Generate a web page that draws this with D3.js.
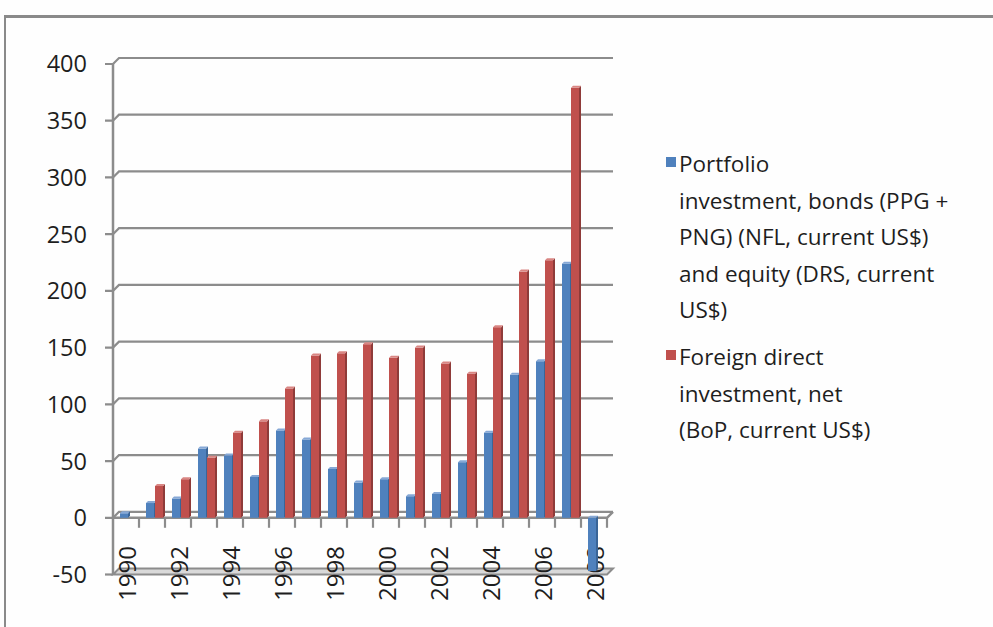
<!DOCTYPE html>
<html>
<head>
<meta charset="utf-8">
<script src="https://cdn.jsdelivr.net/npm/d3@7/dist/d3.min.js"></script>
<style>
  html, body { margin: 0; padding: 0; background: #fff; }
  svg { display: block; }
  text { font-family: "Open Sans", "DejaVu Sans", sans-serif; fill: #1e1e1e; }
</style>
</head>
<body>
<svg id="chart" width="993" height="627"></svg>
<script>
// Annual flows, current US$ (billions)
const years = ["1990","1991","1992","1993","1994","1995","1996","1997","1998","1999",
               "2000","2001","2002","2003","2004","2005","2006","2007","2008"];
const portfolio = [4, 13, 17, 61, 55, 36, 77, 69, 43, 31, 34, 19, 21, 49, 75, 126, 138, 224, -47];
const fdi       = [0, 28, 34, 53, 75, 85, 114, 143, 145, 153, 141, 150, 136, 127, 168, 217, 227, 379, 0];
const yTicks = [-50, 0, 50, 100, 150, 200, 250, 300, 350, 400];
const xLabels = ["1990","1992","1994","1996","1998","2000","2002","2004","2006","2008"];
const seriesNames = [
  ["Portfolio", "investment, bonds (PPG +", "PNG) (NFL, current US$)", "and equity (DRS, current", "US$)"],
  ["Foreign direct", "investment, net", "(BoP, current US$)"]
];
const seriesColors = [
  { front: "#4F81BD", side: "#3A6597", top: "#86A8D6" },
  { front: "#C0504D", side: "#8F3B39", top: "#D98683" }
];

const svg = d3.select("#chart");

// outer chart-area frame
svg.append("rect").attr("x", 0).attr("y", 0).attr("width", 993).attr("height", 627).attr("fill", "#fefefe");
svg.append("line").attr("x1", 4).attr("x2", 993).attr("y1", 16.5).attr("y2", 16.5)
  .attr("stroke", "#8a8a8a").attr("stroke-width", 3);
svg.append("line").attr("x1", 5).attr("x2", 5).attr("y1", 15).attr("y2", 627)
  .attr("stroke", "#8a8a8a").attr("stroke-width", 2);

const left = 113, right = 607;
const depth = { dx: 6, dy: -6 };   // offset of the back wall
const y = d3.scaleLinear().domain([-50, 400]).range([574.5, 64]);
const x = d3.scaleBand().domain(years).range([left, right]).padding(0);
const xs = d3.scaleBand().domain([0, 1]).range([7, 25]).padding(0);

const gridColor = "#8c8c8c";
const g = svg.append("g");

// back-wall gridlines with the little depth connector at the axis
yTicks.filter(v => v > -50).forEach(v => {
  const yy = y(v);
  g.append("path")
    .attr("d", `M${left - 8},${yy} L${left},${yy} L${left + depth.dx},${yy + depth.dy} L${right + depth.dx},${yy + depth.dy}`)
    .attr("fill", "none").attr("stroke", gridColor).attr("stroke-width", 2.2);
});

// floor at the axis minimum
const yf = y(-50);
g.append("path")
  .attr("d", `M${left},${yf} L${left + depth.dx},${yf + depth.dy} L${right + depth.dx},${yf + depth.dy} L${right},${yf} Z`)
  .attr("fill", "#d9d9d9").attr("stroke", gridColor).attr("stroke-width", 2);
g.append("line").attr("x1", left - 8).attr("x2", left).attr("y1", yf).attr("y2", yf)
  .attr("stroke", gridColor).attr("stroke-width", 2.2);

// value axis
g.append("line").attr("x1", left).attr("x2", left).attr("y1", y(400) - 1).attr("y2", yf)
  .attr("stroke", gridColor).attr("stroke-width", 2.5);

// value axis labels
g.selectAll("text.ytick").data(yTicks).join("text")
  .attr("class", "ytick")
  .attr("x", 87).attr("y", d => y(d)).attr("dy", "0.36em")
  .attr("text-anchor", "end")
  .style("font-size", "23.5px")
  .text(d => d);

// category axis at zero: front line, depth edge and tick marks
const y0 = y(0);
g.append("path")
  .attr("d", `M${left},${y0} L${right},${y0} L${right + depth.dx},${y0 + depth.dy}`)
  .attr("fill", "none").attr("stroke", gridColor).attr("stroke-width", 2.5);
years.forEach(yr => {
  const xx = x(yr) + x.bandwidth();
  g.append("line").attr("x1", xx).attr("x2", xx).attr("y1", y0).attr("y2", y0 + 10)
    .attr("stroke", gridColor).attr("stroke-width", 2.2);
});

// category labels, rotated
g.selectAll("text.xtick").data(xLabels).join("text")
  .attr("class", "xtick")
  .attr("transform", d => `translate(${x(d) + x.bandwidth() / 2 + 1},546) rotate(-90)`)
  .attr("dy", "0.36em")
  .attr("text-anchor", "end")
  .style("font-size", "24px")
  .text(d => d);

// columns with a shaded side and top face
const bw = 8, bd = 2;
function column(cx, v, c) {
  const top = Math.min(y(v), y0), bot = Math.max(y(v), y0);
  if (bot - top < 0.5) return;
  const grp = g.append("g");
  grp.append("path")
    .attr("d", `M${cx + bw},${top} L${cx + bw + bd},${top - bd} L${cx + bw + bd},${bot - bd} L${cx + bw},${bot} Z`)
    .attr("fill", c.side);
  grp.append("rect").attr("x", cx).attr("y", top).attr("width", bw).attr("height", bot - top)
    .attr("fill", c.front);
  grp.append("path")
    .attr("d", `M${cx},${top} L${cx + bd},${top - bd} L${cx + bw + bd},${top - bd} L${cx + bw},${top} Z`)
    .attr("fill", c.top);
}
years.forEach((yr, i) => {
  column(x(yr) + xs(0), portfolio[i], seriesColors[0]);
  column(x(yr) + xs(1), fdi[i], seriesColors[1]);
});

// legend
const legend = svg.append("g");
const blocks = [
  { top: 172, lines: seriesNames[0] },
  { top: 365, lines: seriesNames[1] }
];
blocks.forEach((b, k) => {
  legend.append("rect").attr("x", 666).attr("y", b.top - 15).attr("width", 10).attr("height", 10)
    .attr("fill", seriesColors[k].front);
  b.lines.forEach((ln, j) => {
    legend.append("text").attr("x", 679).attr("y", b.top + j * 36.5)
      .style("font-size", "22.5px")
      .text(ln);
  });
});
</script>
</body>
</html>
